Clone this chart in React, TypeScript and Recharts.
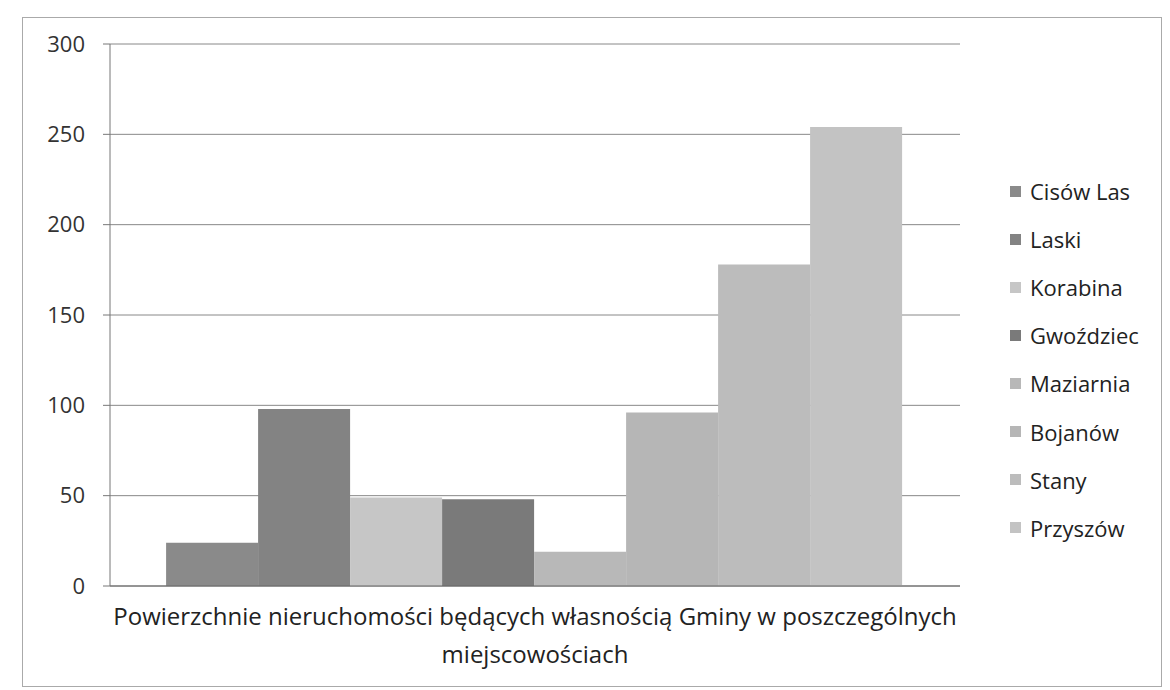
import React from "react";
import { BarChart, Bar, XAxis, YAxis, CartesianGrid } from "recharts";

const categories = [
  "Powierzchnie nieruchomości będących własnością Gminy w poszczególnych miejscowościach",
];
const categoryLines = [
  "Powierzchnie nieruchomości będących własnością Gminy w poszczególnych",
  "miejscowościach",
];
const seriesNames = [
  "Cisów Las",
  "Laski",
  "Korabina",
  "Gwoździec",
  "Maziarnia",
  "Bojanów",
  "Stany",
  "Przyszów",
];
const seriesValues = [24, 98, 49, 48, 19, 96, 178, 254];
const yTicks = [0, 50, 100, 150, 200, 250, 300];
const seriesColors = [
  "#8a8a8a",
  "#838383",
  "#c6c6c6",
  "#7a7a7a",
  "#b8b8b8",
  "#b6b6b6",
  "#bcbcbc",
  "#c3c3c3",
];

const data = categories.map((c) => {
  const row: Record<string, string | number> = { name: c };
  seriesNames.forEach((s, i) => {
    row[s] = seriesValues[i];
  });
  return row;
});

const FONT = "'Open Sans', sans-serif";

const CategoryTick = (props: any) => {
  const { x, y } = props;
  return (
    <g>
      {categoryLines.map((line, i) => (
        <text
          key={i}
          x={x}
          y={y + 39 + i * 38}
          textAnchor="middle"
          fontSize={24}
          fill="#222"
          fontFamily={FONT}
        >
          {line}
        </text>
      ))}
    </g>
  );
};

export default function App() {
  return (
    <div style={{ position: "relative", width: 1154, height: 682, background: "#fff" }}>
      <div
        style={{
          position: "absolute",
          left: 14,
          top: 9,
          width: 1140,
          height: 670,
          border: "1px solid #aaa",
          boxSizing: "border-box",
        }}
      />
      <BarChart
        width={1154}
        height={682}
        data={data}
        margin={{ top: 36, right: 202, bottom: 14, left: 0 }}
        barCategoryGap="6.6%"
        barGap={0}
        style={{ position: "absolute", left: 0, top: 0 }}
      >
        <CartesianGrid vertical={false} stroke="#888" strokeWidth={1} />
        <XAxis
          dataKey="name"
          height={90}
          tickLine={false}
          tickSize={0}
          tickMargin={0}
          axisLine={{ stroke: "#666" }}
          tick={<CategoryTick />}
          interval={0}
        />
        <YAxis
          width={102}
          domain={[0, 300]}
          ticks={yTicks}
          tickSize={7}
          tickMargin={18}
          axisLine={{ stroke: "#777" }}
          tickLine={{ stroke: "#777" }}
          tick={{ fontSize: 22, fill: "#333", fontFamily: FONT }}
          allowDataOverflow
        />
        {seriesNames.map((s, i) => (
          <Bar key={s} dataKey={s} fill={seriesColors[i]} isAnimationActive={false} />
        ))}
      </BarChart>
      <div
        style={{
          position: "absolute",
          left: 1002,
          top: 159,
          fontFamily: FONT,
          fontSize: 22,
          color: "#222",
        }}
      >
        {seriesNames.map((s, i) => (
          <div
            key={s}
            style={{ height: 48.1, display: "flex", alignItems: "center", whiteSpace: "nowrap" }}
          >
            <span
              style={{
                display: "inline-block",
                width: 11,
                height: 11,
                background: seriesColors[i],
                marginRight: 9,
              }}
            />
            <span>{s}</span>
          </div>
        ))}
      </div>
    </div>
  );
}
